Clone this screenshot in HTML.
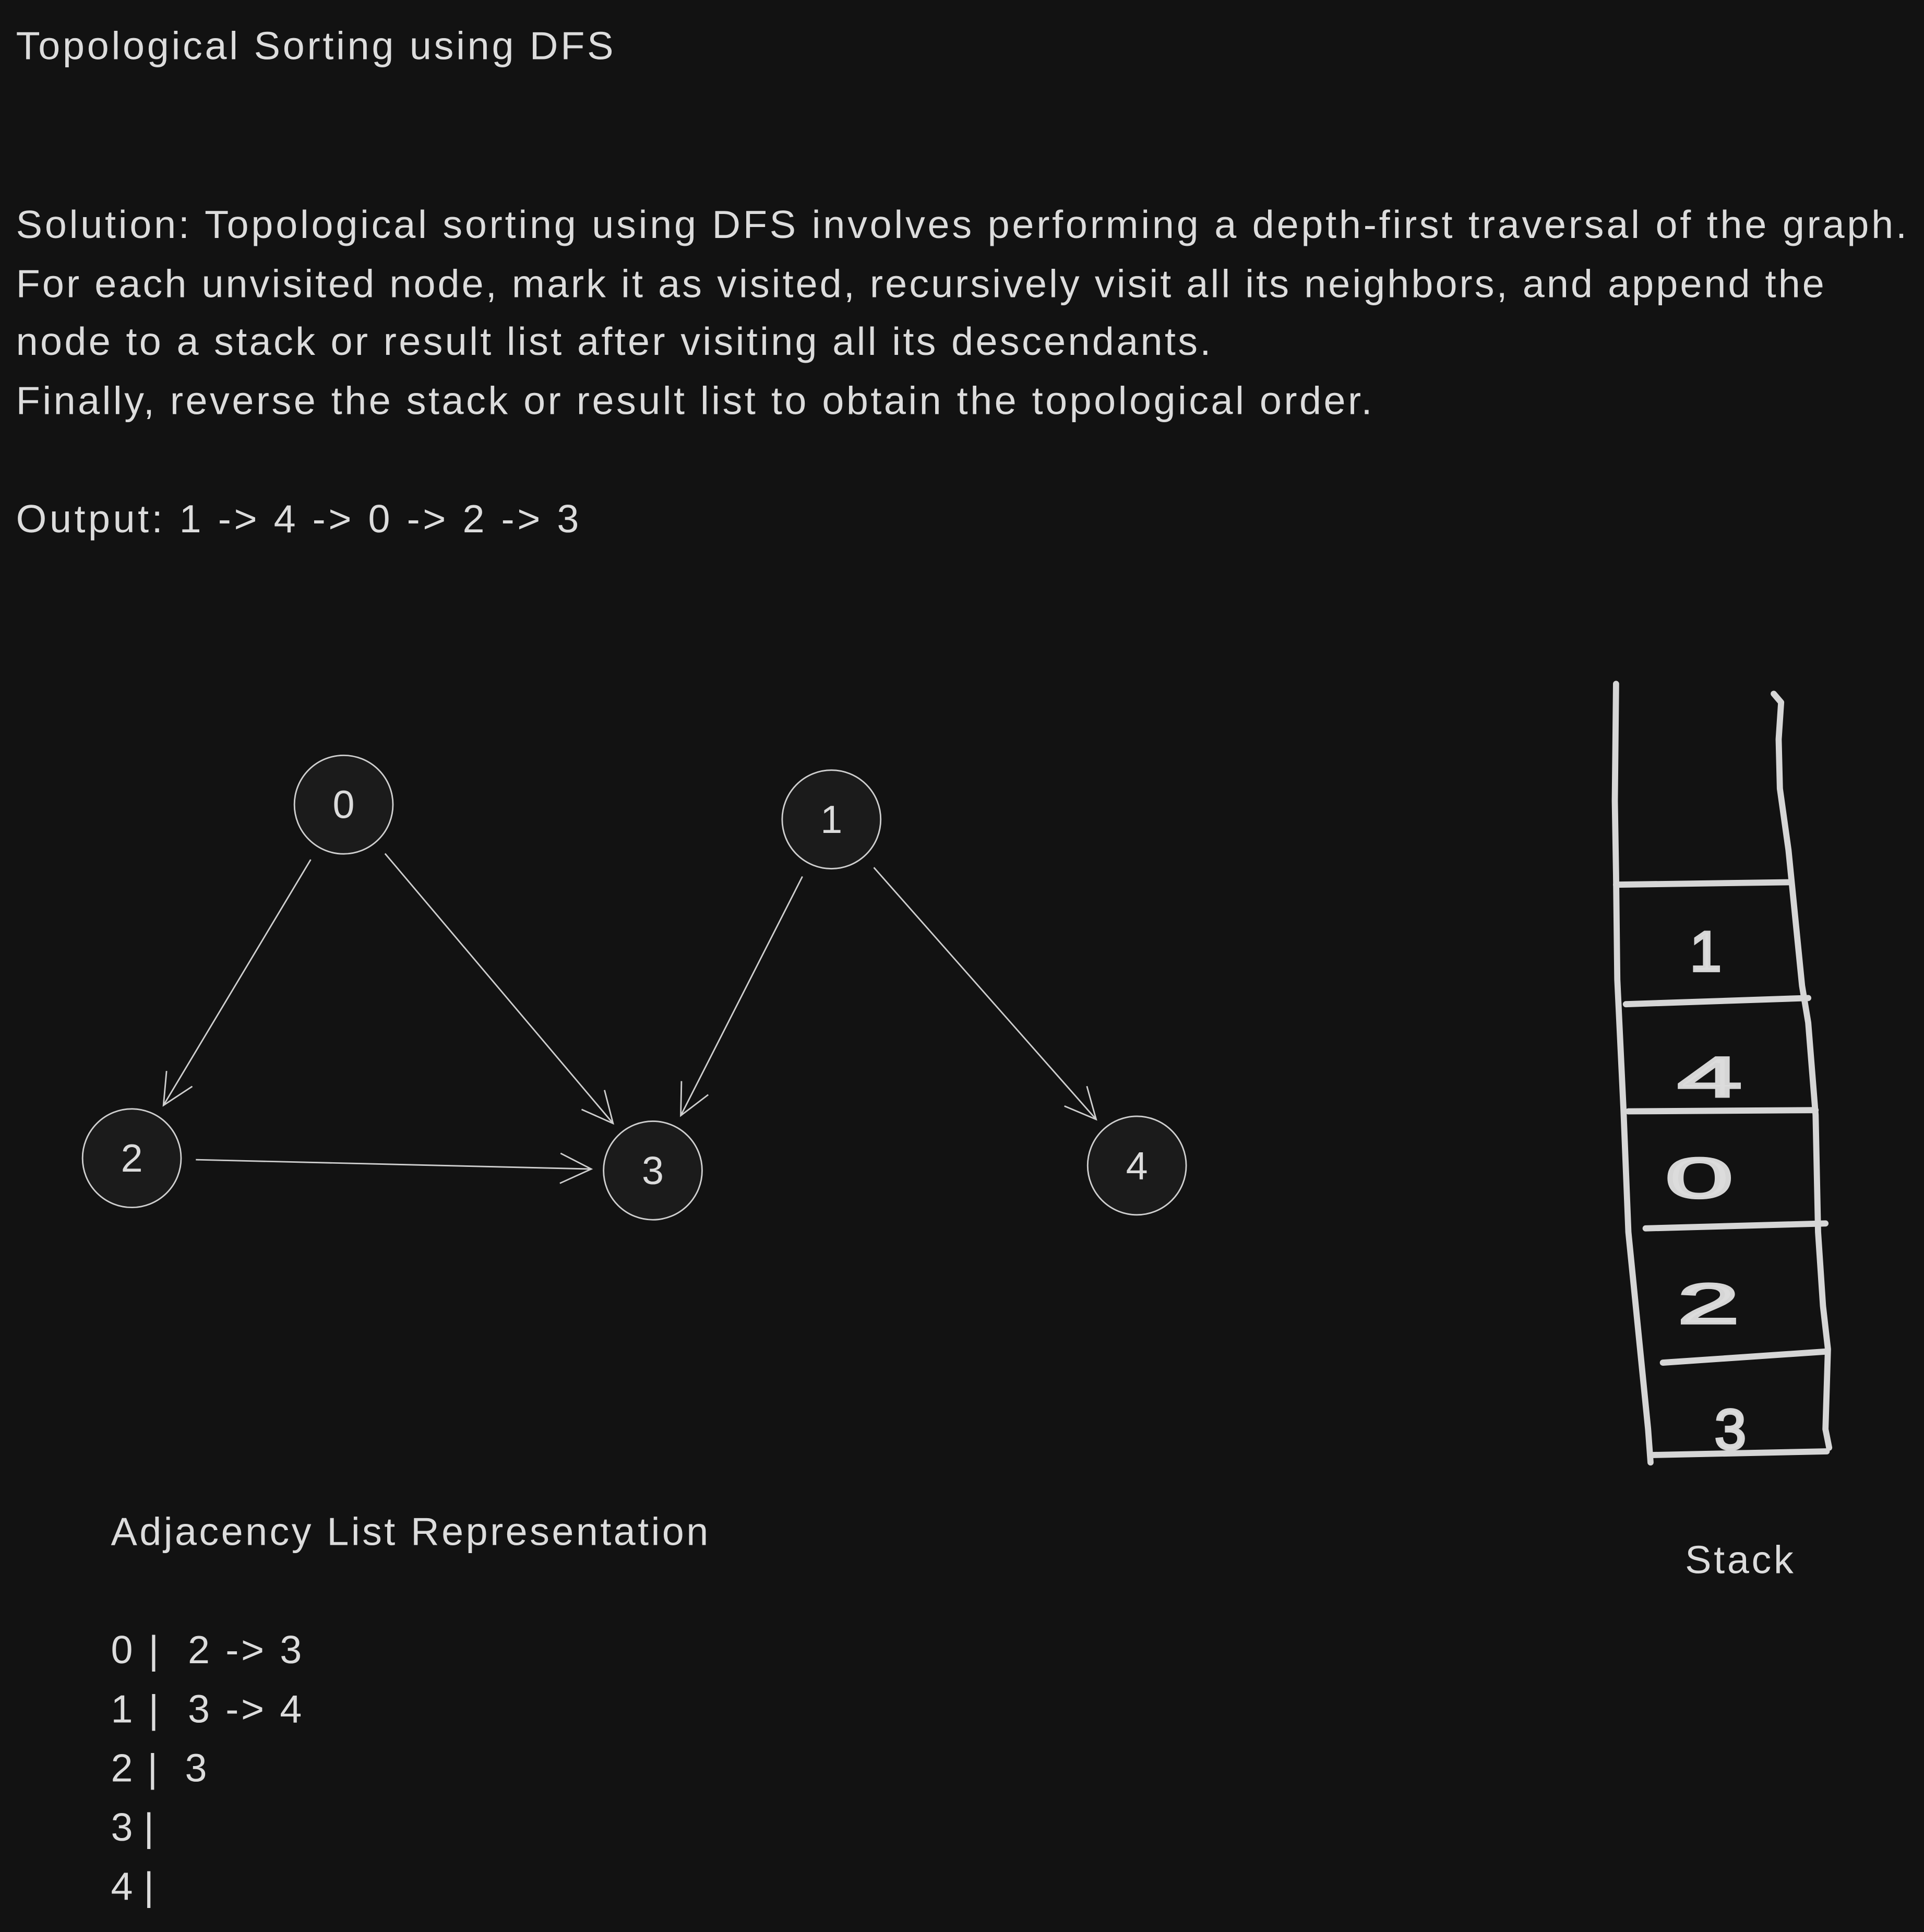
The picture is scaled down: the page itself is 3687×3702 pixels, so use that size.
<!DOCTYPE html>
<html><head><meta charset="utf-8"><style>
html,body{margin:0;padding:0;background:#121212;}
svg{display:block}
text{font-family:"Liberation Sans","DejaVu Sans",sans-serif;fill:#dcdcdc;white-space:pre;}
</style></head><body>
<svg id="chart" width="3687" height="3702" viewBox="0 0 1562 1568" xmlns="http://www.w3.org/2000/svg">
<rect width="1562" height="1568" fill="#121212"/>
<text x="13" y="48" font-size="32" textLength="485">Topological Sorting using DFS</text>
<g font-size="32">
<text x="13" y="193" textLength="1535">Solution: Topological sorting using DFS involves performing a depth-first traversal of the graph.</text>
<text x="13" y="241" textLength="1468">For each unvisited node, mark it as visited, recursively visit all its neighbors, and append the</text>
<text x="13" y="288" textLength="970">node to a stack or result list after visiting all its descendants.</text>
<text x="13" y="336" textLength="1101">Finally, reverse the stack or result list to obtain the topological order.</text>
<text x="13" y="432" textLength="457">Output: 1 -&gt; 4 -&gt; 0 -&gt; 2 -&gt; 3</text>
</g>
<g id="graph"></g>
<g fill="none" stroke="#d6d6d6" stroke-width="5" stroke-linecap="round" stroke-linejoin="round">
<path d="M1312 555 L1311 650 L1312 710 L1313 795 L1318 900 L1322 1000 L1332 1100 L1338 1160 L1340 1187"/>
<path d="M1440 563 L1446 570 L1444 600 L1445 640 L1452 690 L1455 720 L1463 800 L1468 830 L1474 905 L1476 1000 L1480 1060 L1484 1095 L1482 1160 L1485 1175"/>
<path d="M1312 718 L1452 716"/>
<path d="M1320 815 L1468 810"/>
<path d="M1322 902 L1474 901"/>
<path d="M1336 997 L1482 993"/>
<path d="M1350 1106 L1482 1097"/>
<path d="M1340 1181 L1483 1178"/>
</g>
<g font-size="46" style="stroke:#d6d6d6;stroke-width:2">
<text x="1372" y="788">1</text>
<text x="1362" y="890" textLength="52" lengthAdjust="spacingAndGlyphs">4</text>
<text x="1352" y="972" textLength="55" lengthAdjust="spacingAndGlyphs">0</text>
<text x="1362" y="1074" textLength="50" lengthAdjust="spacingAndGlyphs">2</text>
<text x="1392" y="1176">3</text>
</g>
<text x="1368" y="1277" font-size="32" textLength="88">Stack</text>
<g font-size="32">
<text x="90" y="1254" textLength="485">Adjacency List Representation</text>
<text x="90" y="1350" textLength="155">0 |  2 -&gt; 3</text>
<text x="90" y="1398" textLength="155">1 |  3 -&gt; 4</text>
<text x="90" y="1446" textLength="78">2 |  3</text>
<text x="90" y="1494">3 |</text>
<text x="90" y="1542">4 |</text>
</g>
</svg>
<script>
const nodeLabels = ["0","1","2","3","4"];
const nodeX = [279, 675, 107, 530, 923];
const nodeY = [653, 665, 940, 950, 946];
const edgeFrom = [0, 0, 1, 1, 2];
const edgeTo = [2, 3, 3, 4, 3];
const R = 40, NS = "http://www.w3.org/2000/svg";
const g = document.getElementById('graph');
for (let i = 0; i < edgeFrom.length; i++) {
  const a = edgeFrom[i], b = edgeTo[i];
  const dx = nodeX[b]-nodeX[a], dy = nodeY[b]-nodeY[a], L = Math.hypot(dx,dy);
  const ux = dx/L, uy = dy/L;
  const x1 = nodeX[a]+ux*(R+12), y1 = nodeY[a]+uy*(R+12);
  const x2 = nodeX[b]-ux*(R+10), y2 = nodeY[b]-uy*(R+10);
  const p = document.createElementNS(NS,'path');
  const hl = 28, ang = 0.45;
  const c = Math.cos(ang), s = Math.sin(ang);
  const h1x = x2-hl*(ux*c-uy*s), h1y = y2-hl*(uy*c+ux*s);
  const h2x = x2-hl*(ux*c+uy*s), h2y = y2-hl*(uy*c-ux*s);
  p.setAttribute('d',`M${x1} ${y1} L${x2} ${y2} M${h1x} ${h1y} L${x2} ${y2} L${h2x} ${h2y}`);
  p.setAttribute('stroke','#cfcfcf'); p.setAttribute('stroke-width','1.2'); p.setAttribute('fill','none');
  
  
  g.appendChild(p);
}
for (let i = 0; i < nodeLabels.length; i++) {
  const c = document.createElementNS(NS,'circle');
  c.setAttribute('cx',nodeX[i]); c.setAttribute('cy',nodeY[i]); c.setAttribute('r',R);
  c.setAttribute('fill','#1b1b1b'); c.setAttribute('stroke','#cfcfcf'); c.setAttribute('stroke-width','1.2');
  
  
  g.appendChild(c);
  const t = document.createElementNS(NS,'text');
  t.setAttribute('x',nodeX[i]); t.setAttribute('y',nodeY[i]+11); t.setAttribute('font-size','32'); t.setAttribute('text-anchor','middle');
  t.textContent = nodeLabels[i];
  
  
  g.appendChild(t);
}
</script>
</body></html>
